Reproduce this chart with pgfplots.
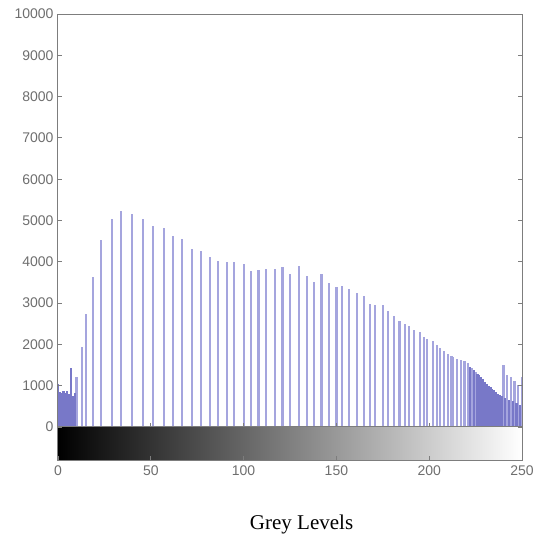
\documentclass[border=0pt]{standalone}
\usepackage{pgfplots}
\pgfplotsset{compat=1.18}
\usepackage{fontspec}
\setmainfont{Liberation Sans}
\newfontfamily\seriffont{Liberation Serif}
\definecolor{barlight}{RGB}{165,165,222}
\definecolor{bardark}{RGB}{120,120,200}
\definecolor{axisgray}{RGB}{125,125,125}
\definecolor{labelgray}{RGB}{110,110,110}

% sparse stems (single grey levels)
\pgfplotstableread{
x y
10 1200
13 1930
15 2730
19 3620
23 4520
29 5040
34 5220
40 5150
46 5040
51 4860
57 4810
62 4620
67 4550
72 4300
77 4250
82 4110
86 4030
91 3990
95 3985
100 3950
104 3780
108 3800
112 3835
117 3825
121 3880
125 3710
130 3900
134 3650
138 3500
142 3695
146 3490
150 3380
153 3420
157 3340
161 3250
165 3180
168 2980
171 2965
175 2960
178 2800
181 2695
184 2565
187 2485
189 2455
192 2350
195 2300
197 2170
199 2140
202 2085
204 1975
206 1920
208 1850
210 1770
212 1730
213 1690
215 1640
217 1615
219 1590
221 1540
223 1420
225 1340
240 1500
242 1270
244 1200
246 1120
248 1010
250 1220
}\sparse

% dense runs (neighbouring grey levels)
\pgfplotstableread{
x y
0 1050
1 850
2 820
3 880
4 830
5 870
6 790
7 1420
8 760
9 820
222 1460
224 1380
226 1290
227 1250
228 1200
229 1150
230 1090
231 1040
232 1000
233 960
234 920
235 890
236 850
237 810
238 780
239 750
241 700
243 660
245 620
247 580
249 540
}\dense

\begin{document}
\begin{tikzpicture}
\begin{axis}[
  scale only axis, width=464pt, height=446pt,
  xmin=0, xmax=250, ymin=-800, ymax=10000,
  xtick={0,50,...,250}, ytick={0,1000,...,10000},
  scaled y ticks=false,
  xtick pos=left, ytick pos=both,
  tick align=inside, major tick length=4pt,
  axis line style={axisgray, line width=1pt},
  tick style={axisgray, line width=0.8pt},
  tick label style={font=\fontsize{14}{14}\selectfont, text=labelgray},
  /pgf/number format/assume math mode=true,
  /pgf/number format/1000 sep={},
  yticklabel style={xshift=-1pt},
  xticklabel style={yshift=-2pt},
  xlabel={Grey Levels},
  xlabel style={at={(axis description cs:0.525,0)}, anchor=center, yshift=-64pt,
    font=\seriffont\fontsize{21}{21}\selectfont, text=black},
  axis on top,
]
  % grey-level colour bar under the histogram
  \addplot[draw=none, left color=black, right color=white, forget plot]
    coordinates {(0,-800) (250,-800) (250,0) (0,0)} -- cycle;

  \addplot[ycomb, barlight, line width=2.2pt] table {\sparse};
  \addplot[ycomb, bardark, line width=2.2pt] table {\dense};

  \draw[axisgray, line width=1pt] (axis cs:0,0) -- (axis cs:250,0);
  \pgfplotsinvokeforeach{50,100,150,200}{
    \draw[axisgray, line width=0.8pt] (axis cs:#1,0) -- (axis cs:#1,100);
  }
\end{axis}
\path (current axis.south west) ++(-58pt,-82pt) rectangle ++(548pt,542pt);
\end{tikzpicture}
\end{document}
